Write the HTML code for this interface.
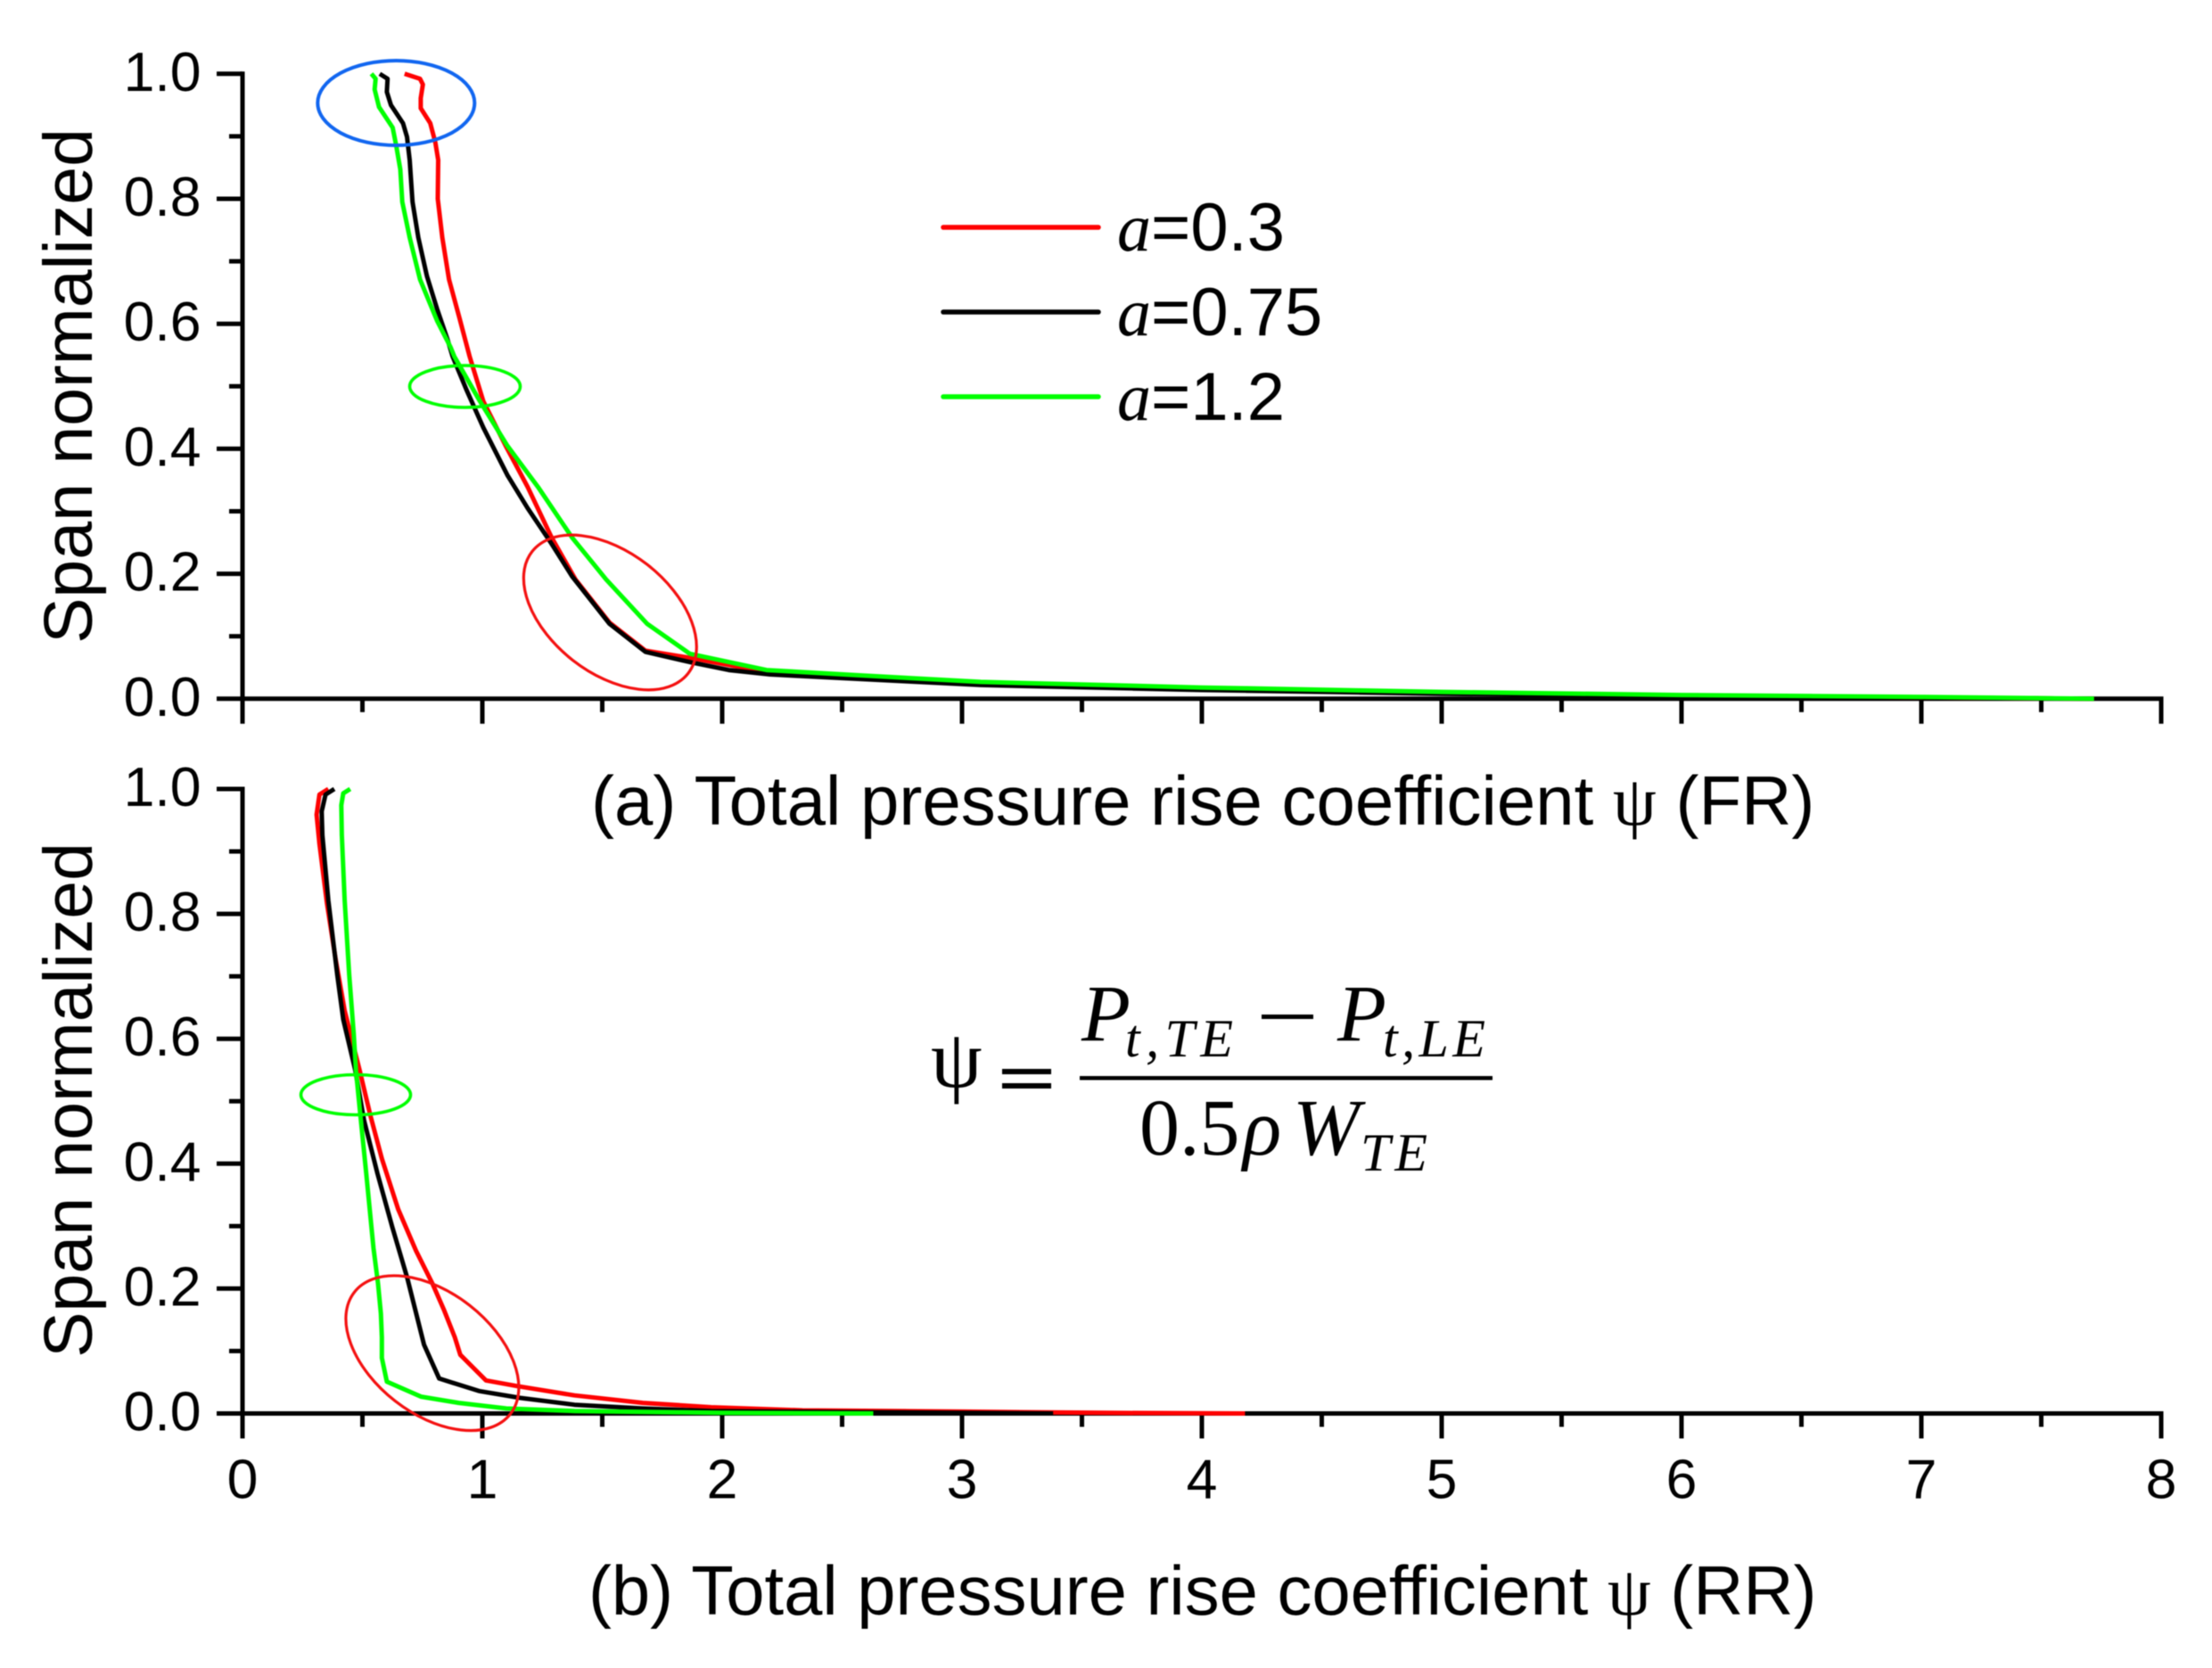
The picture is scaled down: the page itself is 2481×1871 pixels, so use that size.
<!DOCTYPE html>
<html lang="en">
<head>
<meta charset="utf-8">
<title>Span normalized vs total pressure rise coefficient</title>
<style>
html,body{margin:0;padding:0;background:#fff;}
svg{display:block;filter:blur(0.6px);}
text{font-family:"Liberation Sans",sans-serif;fill:#000;}
.serif{font-family:"Liberation Serif",serif;}
</style>
</head>
<body>
<svg id="chart" xmlns="http://www.w3.org/2000/svg" width="2481" height="1871" viewBox="0 0 2481 1871">
  <rect width="2481" height="1871" fill="#fff"/>
  <g id="axes"></g>
  <g id="series"></g>

  <ellipse cx="444.3" cy="115.5" rx="88" ry="47.5" fill="none" stroke="#1166f0" stroke-width="4"/>
  <ellipse cx="521.5" cy="433.5" rx="62" ry="23.5" fill="none" stroke="#00ff00" stroke-width="3.6"/>
  <ellipse cx="684.3" cy="687" rx="111" ry="68" transform="rotate(38 684.3 687)" fill="none" stroke="#f41010" stroke-width="3.2"/>
  <ellipse cx="399" cy="1228" rx="61.5" ry="22.5" fill="none" stroke="#00ff00" stroke-width="3.6"/>
  <ellipse cx="484.9" cy="1517.8" rx="111" ry="68" transform="rotate(38 484.9 1517.8)" fill="none" stroke="#f41010" stroke-width="3.2"/>

  <g>
    <g>
      <line x1="1058" y1="255" x2="1232" y2="255" stroke="#ff0000" stroke-width="5.5" stroke-linecap="round"/>
      <text x="1253" y="281" font-size="76"><tspan class="serif" font-style="italic">a</tspan>=0.3</text>
    </g>
    <g>
      <line x1="1058" y1="350" x2="1232" y2="350" stroke="#000" stroke-width="5.5" stroke-linecap="round"/>
      <text x="1253" y="376" font-size="76"><tspan class="serif" font-style="italic">a</tspan>=0.75</text>
    </g>
    <g>
      <line x1="1058" y1="445" x2="1232" y2="445" stroke="#00ff00" stroke-width="5.5" stroke-linecap="round"/>
      <text x="1253" y="471" font-size="76"><tspan class="serif" font-style="italic">a</tspan>=1.2</text>
    </g>
  </g>

  <text x="103" y="433" font-size="77" text-anchor="middle" transform="rotate(-90 103 433)">Span normalized</text>
  <text x="103" y="1234" font-size="77" text-anchor="middle" transform="rotate(-90 103 1234)">Span normalized</text>

  <text x="663" y="925" font-size="78">(a) Total pressure rise coefficient <tspan class="serif">ψ</tspan> (FR)</text>
  <text x="660" y="1811" font-size="77.8">(b) Total pressure rise coefficient <tspan class="serif">ψ</tspan> (RR)</text>

  <g class="serif">
    <text class="serif" x="1044" y="1219" font-size="92">ψ</text>
    <rect x="1124" y="1199" width="55" height="6" fill="#000"/>
    <rect x="1124" y="1215" width="55" height="6" fill="#000"/>
    <text class="serif" x="1213" y="1167" font-size="90" font-style="italic">P</text>
    <text class="serif" x="1262" y="1185" font-size="60" font-style="italic" textLength="121" lengthAdjust="spacing">t,TE</text>
    <rect x="1415" y="1138" width="58" height="5" fill="#000"/>
    <text class="serif" x="1500" y="1167" font-size="90" font-style="italic">P</text>
    <text class="serif" x="1551" y="1185" font-size="60" font-style="italic" textLength="115" lengthAdjust="spacing">t,LE</text>
    <rect x="1211" y="1207" width="463" height="4.5" fill="#000"/>
    <text class="serif" x="1278" y="1295" font-size="90">0.5</text>
    <text class="serif" x="1394" y="1295" font-size="90" font-style="italic">ρ</text>
    <text class="serif" x="1450" y="1295" font-size="90" font-style="italic">W</text>
    <text class="serif" x="1526" y="1313" font-size="60" font-style="italic" textLength="75" lengthAdjust="spacing">TE</text>
  </g>
</svg>
<script>
// Axis tick values
const xMajorTicks = [0, 1, 2, 3, 4, 5, 6, 7, 8];
const xMinorTicks = [0.5, 1.5, 2.5, 3.5, 4.5, 5.5, 6.5, 7.5];
const yMajorTicks = [0, 0.2, 0.4, 0.6, 0.8, 1.0];
const yMinorTicks = [0.1, 0.3, 0.5, 0.7, 0.9];
const yTickLabels = ['0.0', '0.2', '0.4', '0.6', '0.8', '1.0'];
const xTickLabels = ['0', '1', '2', '3', '4', '5', '6', '7', '8'];

// Panel (a) FR
const frPsiA03 = [0.676,0.740,0.752,0.743,0.743,0.783,0.804,0.816,0.814,0.833,0.861,0.904,0.947,1.004,1.097,1.189,1.289,1.388,1.530,1.680,1.872,2.100,2.270,3.078,4.0,5.0,6.0,7.0,7.72];
const frSpanA03 = [1.0,0.992,0.983,0.961,0.945,0.921,0.890,0.862,0.800,0.738,0.671,0.610,0.548,0.476,0.405,0.339,0.258,0.191,0.122,0.077,0.065,0.049,0.041,0.023,0.015,0.009,0.005,0.002,0];
const frPsiA075 = [0.572,0.605,0.602,0.619,0.669,0.686,0.697,0.709,0.733,0.769,0.811,0.854,0.876,0.933,1.004,1.104,1.189,1.289,1.374,1.530,1.680,1.872,2.028,2.199,2.555,3.078,4.0,5.0,6.0,7.0,7.72];
const frSpanA075 = [1.0,0.992,0.971,0.950,0.921,0.899,0.862,0.795,0.738,0.676,0.624,0.576,0.548,0.495,0.434,0.358,0.305,0.248,0.196,0.120,0.075,0.058,0.046,0.039,0.032,0.022,0.014,0.008,0.004,0.002,0];
const frPsiA12 = [0.537,0.555,0.551,0.569,0.626,0.641,0.658,0.666,0.697,0.740,0.811,0.868,0.883,0.990,1.104,1.232,1.374,1.516,1.687,1.865,2.185,2.555,3.078,4.0,5.0,6.0,7.0,7.72];
const frSpanA12 = [1.0,0.992,0.975,0.947,0.914,0.885,0.847,0.795,0.738,0.671,0.605,0.562,0.548,0.476,0.405,0.339,0.258,0.191,0.120,0.072,0.046,0.038,0.027,0.018,0.011,0.006,0.003,0];

// Panel (b) RR
const rrPsiA03 = [0.358,0.321,0.309,0.321,0.352,0.389,0.426,0.488,0.532,0.581,0.649,0.724,0.792,0.841,0.885,0.908,1.015,1.143,1.384,1.669,1.954,2.335,3.0,3.6,4.18];
const rrSpanA03 = [1.0,0.991,0.959,0.912,0.817,0.726,0.645,0.550,0.479,0.408,0.327,0.260,0.208,0.165,0.122,0.094,0.053,0.044,0.029,0.017,0.010,0.005,0.003,0.001,0];
const rrPsiA075 = [0.383,0.346,0.330,0.333,0.358,0.395,0.420,0.470,0.507,0.563,0.625,0.687,0.757,0.820,0.986,1.157,1.384,1.669,1.954,2.6,3.38];
const rrSpanA075 = [1.0,0.991,0.964,0.926,0.821,0.702,0.631,0.550,0.469,0.384,0.298,0.217,0.110,0.056,0.036,0.025,0.014,0.008,0.004,0.002,0];
const rrPsiA12 = [0.449,0.420,0.412,0.414,0.426,0.445,0.464,0.473,0.491,0.516,0.546,0.565,0.577,0.581,0.581,0.602,0.744,0.901,1.100,1.384,2.0,2.63];
const rrSpanA12 = [1.0,0.993,0.974,0.926,0.821,0.702,0.607,0.550,0.479,0.384,0.265,0.208,0.160,0.122,0.089,0.051,0.027,0.017,0.008,0.004,0.001,0];

const SVG_NS = 'http://www.w3.org/2000/svg';
const axesLayer = document.getElementById('axes');
const seriesLayer = document.getElementById('series');

function xScale(v) { return 272 + v * 269; }
function yScaleTop(v) { return 783.8 - v * 701; }
function yScaleBottom(v) { return 1585.5 - v * 700.5; }

function makeLine(x1, y1, x2, y2, w, name) {
  const el = document.createElementNS(SVG_NS, 'line');
  el.setAttribute('x1', x1);
  el.setAttribute('y1', y1);
  el.setAttribute('x2', x2);
  el.setAttribute('y2', y2);
  el.setAttribute('stroke', '#000');
  el.setAttribute('stroke-width', w);
  
  
  axesLayer.appendChild(el);
}

function makeLabel(x, y, str, anchor, name) {
  const el = document.createElementNS(SVG_NS, 'text');
  el.setAttribute('x', x);
  el.setAttribute('y', y);
  el.setAttribute('font-size', '62.5');
  el.setAttribute('text-anchor', anchor);
  
  
  el.textContent = str;
  axesLayer.appendChild(el);
}

function drawAxes(yScale, panel, showXLabels) {
  const base = yScale(0);
  const lw = 5;
  makeLine(xScale(0), yScale(1) - lw / 2, xScale(0), base + lw / 2, lw, panel + '-y-axis-line');
  makeLine(xScale(0) - lw / 2, base, xScale(8) + lw / 2, base, lw, panel + '-x-axis-line');
  xMajorTicks.forEach(function (t, i) {
    makeLine(xScale(t), base, xScale(t), base + 28, lw, panel + '-x-major-tick');
    if (showXLabels) {
      makeLabel(xScale(t), base + 95, xTickLabels[i], 'middle', panel + '-x-tick-label');
    }
  });
  xMinorTicks.forEach(function (t) {
    makeLine(xScale(t), base, xScale(t), base + 15, lw, panel + '-x-minor-tick');
  });
  yMajorTicks.forEach(function (t, i) {
    makeLine(xScale(0) - 29, yScale(t), xScale(0), yScale(t), lw, panel + '-y-major-tick');
    makeLabel(225.5, yScale(t) + 19, yTickLabels[i], 'end', panel + '-y-tick-label');
  });
  yMinorTicks.forEach(function (t) {
    makeLine(xScale(0) - 15, yScale(t), xScale(0), yScale(t), lw, panel + '-y-minor-tick');
  });
}

function drawSeries(xs, ys, yScale, color, name) {
  const points = xs.map(function (x, i) {
    return xScale(x).toFixed(1) + ',' + yScale(ys[i]).toFixed(1);
  });
  const el = document.createElementNS(SVG_NS, 'polyline');
  el.setAttribute('points', points.join(' '));
  el.setAttribute('fill', 'none');
  el.setAttribute('stroke', color);
  el.setAttribute('stroke-width', '5');
  el.setAttribute('stroke-linejoin', 'round');
  
  
  seriesLayer.appendChild(el);
}

drawAxes(yScaleTop, 'top', false);
drawAxes(yScaleBottom, 'bottom', true);

drawSeries(frPsiA03, frSpanA03, yScaleTop, '#ff0000', 'fr-series-a-0-3');
drawSeries(frPsiA075, frSpanA075, yScaleTop, '#000000', 'fr-series-a-0-75');
drawSeries(frPsiA12, frSpanA12, yScaleTop, '#00ff00', 'fr-series-a-1-2');
drawSeries(rrPsiA03, rrSpanA03, yScaleBottom, '#ff0000', 'rr-series-a-0-3');
drawSeries(rrPsiA075, rrSpanA075, yScaleBottom, '#000000', 'rr-series-a-0-75');
drawSeries(rrPsiA12, rrSpanA12, yScaleBottom, '#00ff00', 'rr-series-a-1-2');
</script>
</body>
</html>
